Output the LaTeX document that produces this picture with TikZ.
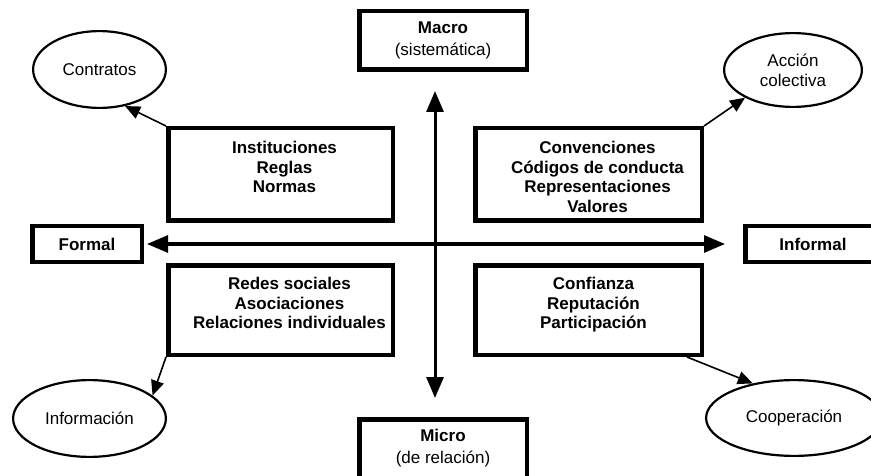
\documentclass[tikz,border=0pt]{standalone}
\usepackage{fontspec}
\setmainfont{Liberation Sans}
\usetikzlibrary{positioning, arrows.meta, shapes.geometric}

\begin{document}
\begin{tikzpicture}[x=1pt, y=-1pt, font=\fontsize{17}{19.5}\selectfont]
\tikzstyle{quad}=[rectangle, draw=black, line width=4.5pt, inner sep=0pt]
\tikzstyle{axisbox}=[rectangle, draw=black, line width=4.5pt, inner sep=0pt, align=center, font=\fontsize{17}{22}\selectfont]
\tikzstyle{quadtext}=[align=center, inner sep=0pt, font=\bfseries\fontsize{17}{19.5}\selectfont]
\tikzstyle{result}=[ellipse, draw=black, line width=2.2pt, inner sep=0pt, align=center, font=\fontsize{17}{20}\selectfont]
\tikzstyle{axis}=[{Triangle[length=21pt, width=17pt]}-{Triangle[length=21pt, width=17pt]}, line width=3pt]
\tikzstyle{connect}=[-{Triangle[length=15pt, width=13pt]}, line width=1.6pt]

\clip (0,0) rectangle (871,476);

% 1. Axes
%%%%%%%%%
\coordinate (centre) at (435,244);
\node[axisbox, minimum width=167.5pt, minimum height=58.5pt] (macro) at (443,40.5) {\textbf{Macro}\\(sistemática)};
\node[axisbox, minimum width=167.5pt, minimum height=58.5pt] (micro) at (443,448.5) {\textbf{Micro}\\(de relación)};
\node[axisbox, minimum width=109.5pt, minimum height=35.5pt, font=\bfseries\fontsize{17}{19.5}\selectfont] (formal) at (87,244) {Formal};
\node[axisbox, minimum width=135.5pt, minimum height=35.5pt, font=\bfseries\fontsize{17}{19.5}\selectfont] (informal) at (813,244) {Informal};

% 2. Quadrants
%%%%%%%%%%%%%%
\node[quad, minimum width=224.5pt, minimum height=92.5pt] (inst) at (280.5,174.5) {};
\node[quad, minimum width=226.5pt, minimum height=92.5pt] (conv) at (588.5,174.5) {};
\node[quad, minimum width=224.5pt, minimum height=89.5pt] (redes) at (280.5,310) {};
\node[quad, minimum width=226.5pt, minimum height=89.5pt] (conf) at (588.5,310) {};
\node[quadtext, below=15pt of inst.north, xshift=4pt] (instT) {Instituciones\\Reglas\\Normas};
\node[quadtext, below=15pt of conv.north, xshift=9pt] (convT) {Convenciones\\Códigos de conducta\\Representaciones\\Valores};
\node[quadtext, below=14pt of redes.north, xshift=9pt] (redesT) {Redes sociales\\Asociaciones\\Relaciones individuales};
\node[quadtext, below=14pt of conf.north, xshift=5pt] (confT) {Confianza\\Reputación\\Participación};

% 3. Results
%%%%%%%%%%%%
\node[result, minimum width=132.8pt, minimum height=76.8pt] (contratos) at (99.5,69.5) {Contratos};
\node[result, minimum width=137.8pt, minimum height=73.8pt] (accion) at (793,70) {Acción\\colectiva};
\node[result, minimum width=152.8pt, minimum height=76.8pt] (info) at (89.5,418.5) {Información};
\node[result, minimum width=175.8pt, minimum height=75.8pt] (coop) at (794,418) {Cooperación};

% 4. Arrows
%%%%%%%%%%%
\draw[axis, shorten <=19pt, shorten >=19pt] (centre |- macro.south) -- (centre |- micro.north);
\draw[axis, shorten <=3pt, shorten >=18pt] (formal.east) -- (informal.west);
\path (inst.north west) edge [connect] (contratos.-55)
      (conv.north east) edge [connect] (accion.-150)
      (redes.south west) edge [connect] (info.20)
      ([xshift=-17pt]conf.south east) edge [connect] (coop.140);

\end{tikzpicture}
\end{document}
